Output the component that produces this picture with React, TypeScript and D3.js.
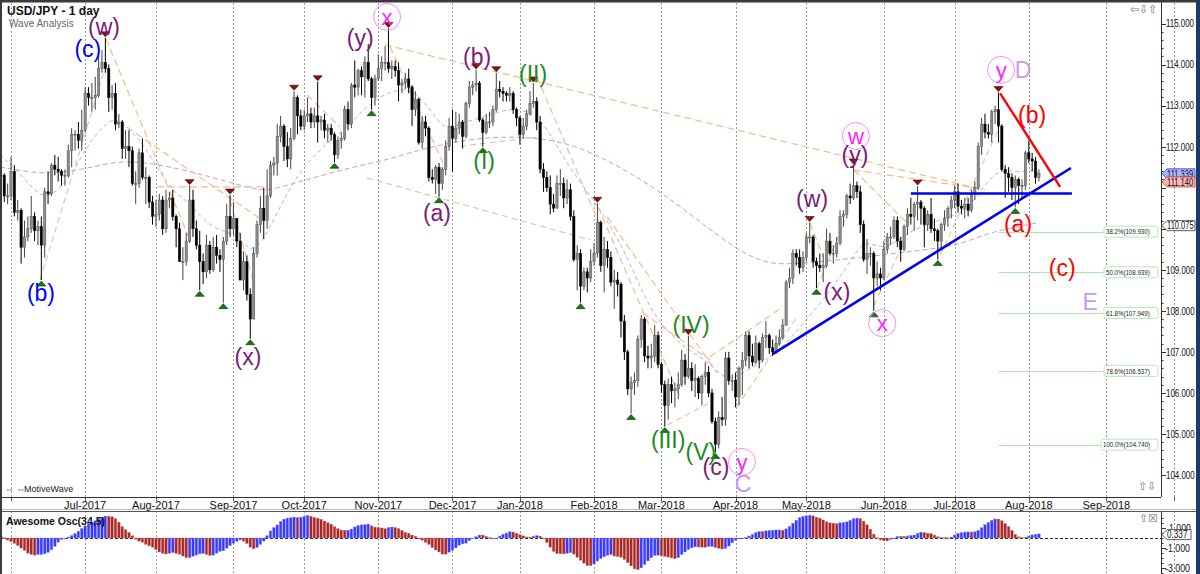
import React from 'react';
import * as d3 from 'd3';

type Bar = [number, number, number, number]; // open, high, low, close

// ---- Daily USD/JPY candles (open, high, low, close) ----
const apr2017: Bar[] = [
  [110.90,110.95,109.60,109.70],[109.70,109.85,109.20,109.35],[109.35,109.50,108.75,109.05],[109.05,109.10,108.60,108.65],
  [108.65,108.95,108.15,108.90],[108.90,109.10,108.55,108.80],[108.80,109.25,108.60,108.95],[108.95,109.50,108.85,109.30],
  [109.30,109.55,108.90,109.05],[109.05,110.15,109.05,109.95],[109.95,111.15,109.85,111.10],[111.10,111.80,110.95,111.15],
  [111.15,111.45,110.85,111.25],[111.25,111.70,111.20,111.50],
];
const may2017: Bar[] = [
  [111.50,111.95,111.25,111.85],[111.85,112.30,111.75,112.15],[112.15,112.80,111.95,112.75],[112.75,112.95,112.40,112.50],
  [112.50,112.90,112.25,112.70],[112.70,113.35,112.55,113.25],[113.25,114.10,113.20,114.00],[114.00,114.35,113.75,114.20],
  [114.20,114.35,113.70,113.90],[113.90,114.00,113.25,113.35],[113.35,113.90,113.30,113.75],[113.75,114.20,112.85,113.10],
  [113.10,113.20,110.90,110.95],[110.95,111.65,110.25,111.50],[111.50,111.70,111.05,111.30],[111.30,111.45,110.85,111.10],
  [111.10,111.90,110.95,111.80],[111.80,112.15,111.40,111.60],[111.60,111.95,111.30,111.80],[111.80,111.90,111.10,111.30],
  [111.30,111.45,110.95,111.30],[111.30,111.35,110.65,110.80],[110.80,111.10,110.60,110.80],
];
const jun2017: Bar[] = [
  [110.80,111.75,110.70,111.40],[111.40,111.55,110.30,110.40],[110.40,110.70,110.20,110.45],[110.45,110.50,109.15,109.55],
  [109.55,110.20,109.30,109.80],[109.80,110.30,109.70,110.00],[110.00,110.80,109.90,110.30],[110.30,110.40,109.70,109.95],
  [109.95,110.20,109.60,110.05],[110.05,110.30,108.75,109.60],[109.60,111.00,109.30,110.90],[110.90,111.40,110.60,110.85],
  [110.85,111.60,110.80,111.55],[111.55,111.80,111.30,111.45],[111.45,111.75,111.15,111.40],[111.40,111.45,111.05,111.30],
  [111.30,111.45,111.05,111.30],[111.30,112.05,111.25,111.90],[111.90,112.45,111.50,112.30],[112.30,112.40,111.90,112.30],
  [112.30,112.60,111.95,112.15],[112.15,112.90,111.90,112.40],
];
const jul2017: Bar[] = [
  [112.40,113.45,112.35,113.30],[113.30,113.45,113.00,113.20],[113.20,113.55,112.85,113.20],[113.20,113.70,112.90,113.25],
  [113.25,114.20,113.20,113.90],[113.90,114.35,113.80,114.05],[114.05,114.65,113.80,113.90],[113.90,114.00,112.85,113.20],
  [113.20,113.50,112.90,113.30],[113.30,113.55,112.40,112.55],[112.55,112.80,112.45,112.60],[112.60,112.65,111.70,111.95],
  [111.95,112.40,111.70,112.00],[112.00,112.40,111.50,111.90],[111.90,112.00,111.05,111.10],[111.10,111.40,110.60,111.10],
  [111.10,111.95,111.00,111.85],[111.85,112.20,111.20,111.25],[111.25,111.50,110.60,111.25],[111.25,111.30,110.50,110.65],
  [110.65,110.80,110.10,110.30],
];
const aug2017: Bar[] = [
  [110.30,110.70,110.05,110.35],[110.35,110.85,110.20,110.70],[110.70,110.80,109.85,110.00],[110.00,110.95,109.90,110.70],
  [110.70,110.90,110.50,110.75],[110.75,110.95,110.20,110.30],[110.30,110.35,109.55,110.00],[110.00,110.15,109.20,109.20],
  [109.20,109.55,108.75,109.20],[109.20,109.90,109.10,109.70],[109.70,111.05,109.65,110.70],[110.70,110.95,109.80,110.00],
  [110.00,110.20,109.50,109.60],[109.60,109.95,108.50,109.20],[109.20,109.40,108.65,108.95],[108.95,109.85,108.80,109.60],
  [109.60,109.70,108.90,109.00],[109.00,109.80,108.95,109.55],[109.55,109.85,109.15,109.35],[109.35,109.50,108.95,109.25],
  [109.25,109.80,108.20,109.70],[109.70,110.60,109.60,110.30],[110.30,110.82,109.80,110.00],
];
const sep2017: Bar[] = [
  [110.00,110.65,109.85,110.25],[110.25,110.25,109.55,109.70],[109.70,109.90,108.75,108.75],[108.75,109.45,108.50,109.20],
  [109.20,109.35,108.25,108.40],[108.40,108.55,107.32,107.80],[107.80,109.55,107.80,109.40],[109.40,110.20,109.30,110.10],
  [110.10,110.80,109.90,110.50],[110.50,111.00,109.75,110.20],[110.20,111.45,110.00,110.80],[110.80,111.65,110.75,111.55],
  [111.55,111.75,111.30,111.60],[111.60,112.55,111.30,112.25],[112.25,112.75,112.10,112.50],[112.50,112.55,111.65,112.00],
  [112.00,112.35,111.50,111.70],[111.70,112.45,111.45,112.20],[112.20,113.35,112.15,113.20],[113.20,113.25,112.30,112.75],
  [112.75,112.90,112.40,112.50],
];
const oct2017: Bar[] = [
  [112.50,112.90,112.40,112.75],[112.75,113.20,112.60,112.80],[112.80,112.95,112.45,112.60],[112.60,112.95,112.45,112.75],
  [112.75,113.58,112.10,112.60],[112.60,112.75,112.40,112.65],[112.65,112.80,112.20,112.40],[112.40,112.55,112.10,112.45],
  [112.45,112.55,112.15,112.30],[112.30,112.35,111.62,111.80],[111.80,112.25,111.70,112.15],[112.15,112.35,111.95,112.20],
  [112.20,113.00,112.15,112.90],[112.90,113.10,112.40,112.55],[112.55,113.55,112.45,113.50],[113.50,114.10,113.20,113.45],
  [113.45,113.90,113.25,113.85],[113.85,113.95,113.25,113.70],[113.70,114.20,113.20,114.05],[114.05,114.50,113.60,113.65],
  [113.65,113.70,112.90,113.20],[113.20,113.75,113.00,113.65],
];
const nov2017: Bar[] = [
  [113.65,114.25,113.60,113.90],[113.90,114.20,113.60,114.05],[114.05,114.45,113.85,114.05],[114.05,114.88,113.80,113.90],
  [113.90,114.10,113.65,113.95],[113.95,114.10,113.70,113.85],[113.85,114.05,113.10,113.50],[113.50,113.65,113.30,113.55],
  [113.55,113.80,113.40,113.65],[113.65,113.90,113.30,113.45],[113.45,113.50,112.50,112.90],[112.90,113.35,112.75,113.15],
  [113.15,113.20,112.05,112.10],[112.10,112.75,111.95,112.60],[112.60,112.75,112.25,112.45],[112.45,112.50,111.15,111.25],
  [111.25,111.45,111.10,111.20],[111.20,111.55,110.85,111.50],[111.50,111.60,110.78,111.10],[111.10,111.50,110.95,111.45],
  [111.45,112.15,111.30,112.00],[112.00,112.70,111.90,112.50],
];
const dec2017: Bar[] = [
  [112.50,112.90,111.40,112.20],[112.20,112.85,112.10,112.45],[112.45,112.80,112.30,112.60],[112.60,112.65,111.95,112.25],
  [112.25,113.10,112.20,113.05],[113.05,113.60,112.95,113.45],[113.45,113.60,113.25,113.50],[113.50,113.87,113.35,113.55],
  [113.55,113.60,112.60,112.65],[112.65,112.70,112.00,112.35],[112.35,112.80,112.30,112.60],[112.60,112.85,112.45,112.60],
  [112.60,113.00,112.50,112.90],[112.90,113.80,112.85,113.40],[113.40,113.60,113.20,113.35],[113.35,113.45,113.10,113.30],
  [113.30,113.35,113.10,113.25],[113.25,113.45,113.10,113.30],[113.30,113.35,112.80,112.90],[112.90,112.95,112.50,112.70],
];
const jan2018: Bar[] = [
  [112.70,112.75,112.05,112.30],[112.30,112.70,112.20,112.50],[112.50,112.90,112.40,112.80],[112.80,113.35,112.75,113.05],
  [113.05,113.55,112.95,113.10],[113.10,113.20,112.40,112.60],[112.60,112.75,111.35,111.45],[111.45,111.60,110.90,111.25],
  [111.25,111.40,110.90,111.00],[111.00,111.30,110.35,110.60],[110.60,110.85,110.40,110.50],[110.50,111.30,110.50,111.10],
  [111.10,111.45,110.80,111.10],[111.10,111.25,110.50,110.75],[110.75,111.20,110.60,110.95],[110.95,111.10,110.20,110.30],
  [110.30,110.45,109.20,109.25],[109.25,109.60,108.50,109.40],[109.40,109.50,108.20,108.60],[108.60,109.05,108.50,108.95],
  [108.95,109.05,108.45,108.80],[108.80,109.50,108.70,109.20],
];
const feb2018: Bar[] = [
  [109.20,109.65,109.10,109.40],[109.40,110.62,109.30,110.15],[110.15,110.20,108.95,109.10],[109.10,109.80,108.45,109.50],
  [109.50,109.70,109.05,109.30],[109.30,109.45,108.60,108.70],[108.70,109.00,108.05,108.75],[108.75,108.95,108.35,108.65],
  [108.65,108.70,107.35,107.75],[107.75,107.90,106.80,107.00],[107.00,107.05,105.95,106.10],[106.10,106.40,105.50,106.25],
  [106.25,106.50,105.95,106.30],[106.30,107.40,106.15,107.30],[107.30,107.90,107.10,107.80],[107.80,107.85,106.75,106.90],
  [106.90,107.15,106.60,106.85],[106.85,107.20,106.60,106.90],[106.90,107.65,106.75,107.40],[107.40,107.50,106.60,106.70],
];
const mar2018: Bar[] = [
  [106.70,106.75,106.00,106.20],[106.20,106.30,105.18,105.70],[105.70,106.35,105.35,106.20],[106.20,106.40,105.75,106.05],
  [106.05,106.25,105.65,106.10],[106.10,106.50,105.85,106.20],[106.20,107.05,106.15,106.80],[106.80,106.95,106.20,106.40],
  [106.40,107.40,106.35,106.60],[106.60,106.75,106.05,106.30],[106.30,106.70,105.90,106.35],[106.35,106.40,105.85,106.00],
  [106.00,106.45,105.70,106.40],[106.40,106.75,106.20,106.50],[106.50,106.65,105.90,106.00],[106.00,106.10,105.25,105.30],
  [105.30,105.40,104.55,104.75],[104.75,105.55,104.65,105.40],[105.40,105.90,105.20,105.35],[105.35,107.00,105.20,106.85],
  [106.85,107.00,106.20,106.30],[106.30,106.45,106.05,106.30],
];
const apr2018: Bar[] = [
  [106.30,106.50,105.65,105.90],[105.90,106.65,105.70,106.60],[106.60,107.00,105.95,106.80],[106.80,107.50,106.65,107.40],
  [107.40,107.50,106.60,106.90],[106.90,107.20,106.65,106.75],[106.75,107.40,106.70,107.20],[107.20,107.25,106.60,106.80],
  [106.80,107.45,106.75,107.35],[107.35,107.75,107.10,107.40],[107.40,107.45,106.95,107.10],[107.10,107.30,106.90,107.00],
  [107.00,107.40,106.95,107.20],[107.20,107.55,107.15,107.35],[107.35,107.80,107.30,107.65],[107.65,108.75,107.65,108.70],
  [108.70,109.05,108.55,108.80],[108.80,109.50,108.65,109.40],[109.40,109.50,109.10,109.30],[109.30,109.50,108.90,109.05],
  [109.05,109.45,108.95,109.30],
];
const may2018: Bar[] = [
  [109.30,109.90,109.20,109.80],[109.80,110.15,109.65,109.80],[109.80,109.85,109.05,109.20],[109.20,109.30,108.55,109.10],
  [109.10,109.40,108.95,109.05],[109.05,109.40,108.70,109.10],[109.10,110.00,109.05,109.70],[109.70,109.90,109.35,109.40],
  [109.40,109.60,109.15,109.40],[109.40,109.80,109.30,109.65],[109.65,110.45,109.60,110.30],[110.30,110.45,110.05,110.35],
  [110.35,110.85,110.25,110.80],[110.80,111.10,110.60,110.75],[110.75,111.55,110.70,111.05],[111.05,111.15,110.75,110.90],
  [110.90,111.05,109.90,110.10],[110.10,110.20,109.20,109.25],[109.25,109.75,108.90,109.40],[109.40,109.55,109.10,109.40],
  [109.40,109.45,108.00,108.80],[108.80,109.20,108.60,108.90],[108.90,109.05,108.50,108.80],
];
const jun2018: Bar[] = [
  [108.80,109.70,108.75,109.50],[109.50,109.90,109.40,109.80],[109.80,110.05,109.60,109.80],[109.80,110.30,109.75,110.20],
  [110.20,110.30,109.55,109.70],[109.70,109.80,109.20,109.50],[109.50,110.10,109.45,110.05],[110.05,110.50,109.85,110.35],
  [110.35,110.75,110.10,110.30],[110.30,110.65,109.95,110.60],[110.60,111.04,110.20,110.65],[110.65,110.70,110.10,110.50],
  [110.50,110.55,109.55,110.10],[110.10,110.45,109.95,110.35],[110.35,110.75,109.90,110.00],[110.00,110.25,109.70,109.95],
  [109.95,110.00,109.25,109.70],[109.70,110.15,109.50,110.10],[110.10,110.45,109.95,110.25],[110.25,110.55,110.05,110.50],
  [110.50,110.80,110.25,110.70],
];
const jul2018: Bar[] = [
  [110.70,111.05,110.50,110.90],[110.90,111.10,110.40,110.55],[110.55,110.70,110.35,110.50],[110.50,110.75,110.25,110.60],
  [110.60,110.75,110.30,110.45],[110.45,110.95,110.40,110.85],[110.85,111.15,110.70,111.00],[111.00,112.10,110.95,112.00],
  [112.00,112.70,111.80,112.55],[112.55,112.80,112.20,112.35],[112.35,112.55,112.20,112.30],[112.30,112.90,112.10,112.85],
  [112.85,113.00,112.55,112.90],[112.90,113.32,112.10,112.50],[112.50,112.55,111.40,111.45],[111.45,111.55,110.75,111.35],
  [111.35,111.50,110.90,111.25],[111.25,111.35,110.70,111.00],[111.00,111.30,110.52,111.20],[111.20,111.25,110.60,111.05],
  [111.05,111.20,110.75,111.05],[111.05,111.90,110.95,111.85],
];
const aug2018: Bar[] = [
  [111.85,112.15,111.60,111.70],[111.70,111.85,111.40,111.65],[111.65,111.75,111.10,111.25],[111.25,111.45,111.15,111.35],
];

// month blocks: year, month (0-based), first day, candles
const blocks: [number, number, number, Bar[]][] = [
  [2017, 3, 11, apr2017], [2017, 4, 1, may2017], [2017, 5, 1, jun2017], [2017, 6, 1, jul2017],
  [2017, 7, 1, aug2017], [2017, 8, 1, sep2017], [2017, 9, 1, oct2017], [2017, 10, 1, nov2017],
  [2017, 11, 1, dec2017], [2018, 0, 1, jan2018], [2018, 1, 1, feb2018], [2018, 2, 1, mar2018],
  [2018, 3, 1, apr2018], [2018, 4, 1, may2018], [2018, 5, 1, jun2018], [2018, 6, 1, jul2018],
  [2018, 7, 1, aug2018],
];

// wave pivot markers
const highMarks = ['2017-07-11','2017-08-15','2017-08-31','2017-09-27','2017-10-06','2017-11-06','2017-12-12',
  '2017-12-20','2018-01-08','2018-02-02','2018-03-13','2018-05-02','2018-05-21','2018-06-15','2018-07-19'];
const lowMarks = ['2017-06-14','2017-08-18','2017-08-29','2017-09-08','2017-10-13','2017-10-30','2017-11-27',
  '2017-12-14','2018-01-26','2018-02-16','2018-03-02','2018-03-23','2018-05-04','2018-05-29','2018-06-25','2018-07-26'];

// wave labels: text, bar (from 1 Jun 2017), price, colour, circled
const waveLabels: [string, number, number, string, boolean][] = [
  ['(c)', 22.8, 114.38, '#0000ff', false], ['(w)', 27.6, 114.91, '#7a1a7a', false],
  ['(b)', 8.9, 108.43, '#0000ff', false], ['(x)', 70.3, 106.88, '#7a1a7a', false],
  ['(y)', 103.6, 114.65, '#7a1a7a', false], ['x', 111.6, 115.16, '#ff22ff', true],
  ['(a)', 126.4, 110.38, '#7a1a7a', false], ['(b)', 138.3, 114.18, '#7a1a7a', false],
  ['(I)', 140.4, 111.65, '#1a8a1a', false], ['(II)', 154.9, 113.77, '#1a8a1a', false],
  ['(IV)', 201.8, 107.66, '#1a8a1a', false], ['(III)', 195.0, 104.85, '#1a8a1a', false],
  ['(V)', 204.7, 104.56, '#1a8a1a', false], ['(c)', 209.2, 104.20, '#7a1a7a', false],
  ['y', 216.9, 104.32, '#ff22ff', true], ['C', 217.2, 103.78, '#c89af5', false],
  ['(w)', 237.7, 110.73, '#7a1a7a', false], ['(x)', 245.1, 108.46, '#7a1a7a', false],
  ['w', 250.7, 112.26, '#ff22ff', true], ['(y)', 250.4, 111.80, '#7a1a7a', false],
  ['x', 258.5, 107.70, '#ff22ff', true], ['y', 293.8, 113.87, '#ff22ff', true],
  ['D', 300.3, 113.87, '#c89af5', false], ['(b)', 303.0, 112.77, '#ff0000', false],
  ['(a)', 298.8, 110.12, '#ff0000', false], ['(c)', 311.9, 109.04, '#ff0000', false],
  ['E', 320.2, 108.22, '#c89af5', false],
];

// moving averages sampled from the chart: [bar, price]
const blueMA: [number, number][] = [
  [-3.3,111.80],[2.7,111.36],[9.2,110.70],[13.6,110.90],[18.4,111.36],[21.4,111.85],[25.5,112.33],[29.4,112.65],
  [31.5,112.65],[34.4,112.48],[38.3,112.16],[42.1,111.67],[48.1,110.87],[52.2,110.70],[56.1,110.29],[61.1,109.97],
  [65.9,109.90],[70.0,109.56],[71.8,109.48],[74.8,109.73],[76.9,110.04],[81.9,110.87],[86.6,111.50],[93.8,112.09],
  [99.7,112.48],[106.5,113.06],[111.6,113.31],[117.5,113.45],[122.3,113.14],[126.4,112.65],[129.4,112.41],
  [134.1,112.58],[140.1,112.72],[148.1,112.95],[154.0,112.85],[158.5,112.55],[165.0,111.55],[174.5,110.53],
  [181.6,109.56],[188.7,108.19],[193.5,107.60],[200.6,107.05],[207.4,106.75],[212.5,106.24],[218.4,106.56],
  [225.2,106.85],[231.2,107.30],[236.0,107.80],[241.0,108.26],[248.1,109.07],[252.8,109.73],[257.0,109.56],
  [260.8,109.56],[265.9,109.90],[272.7,110.14],[278.6,110.29],[284.6,110.53],[288.4,111.02],[293.5,111.48],
  [298.5,111.36],[302.4,111.43],[304.7,111.38],
];
const purpleMA: [number, number][] = [
  [-3.3,111.51],[9.5,111.31],[21.4,111.44],[32.3,111.67],[41.3,111.60],[54.0,111.39],[65.9,111.10],[73.9,110.94],
  [76.9,110.94],[86.6,111.17],[101.5,111.51],[109.5,111.63],[119.3,111.88],[130.3,112.10],[142.2,112.24],
  [154.9,112.23],[165.0,112.09],[174.8,111.76],[184.6,111.32],[194.7,110.78],[204.5,110.17],[214.2,109.56],
  [222.3,109.20],[229.1,109.12],[240.1,109.20],[251.0,109.29],[270.6,109.48],[281.6,109.60],[290.5,109.93],
  [304.5,110.14],
];

// trend lines (bar, price) pairs
const blueLines: [number, number, number, number][] = [[226.1, 106.95, 314.5, 111.48], [267.0, 110.86, 314.8, 110.86]];
const redLines: [number, number, number, number][] = [[293.5, 113.30, 311.3, 111.02]];
const orangeLines: [number, number, number, number][] = [
  [28.2,114.62,53.1,109.73],[34.4,112.48,74.5,110.21],[43.3,111.02,76.0,111.02],[65.0,110.70,72.4,108.58],
  [87.8,113.26,97.6,112.48],[111.0,114.48,289.0,110.94],[112.5,114.43,128.2,111.60],[156.1,113.70,174.8,110.07],
  [174.2,110.53,198.5,105.90],[176.9,110.29,209.5,106.49],[187.5,107.95,207.4,106.80],[207.4,106.88,229.1,108.10],
  [250.1,111.43,265.9,110.14],[250.1,111.43,286.6,110.99],[237.1,110.14,241.0,109.31],
];
const oliveLines: [number, number, number, number][] = [
  [8.6,108.75,28.5,114.06],[105.6,111.24,171.8,109.73],[133.2,112.01,157.0,112.24],[194.7,105.22,207.4,105.76],
  [215.4,105.66,233.2,107.85],[239.2,108.56,247.5,110.21],[256.1,108.14,265.3,109.73],[275.7,109.36,292.9,112.40],
];

// Fibonacci retracement levels
const fibPct = ['38.2', '50.0', '61.8', '78.6', '100.0'];
const fibPrice = [109.930, 108.939, 107.949, 106.537, 104.740];
const fibStartBar = 293;

const priceTicks = [104, 105, 106, 107, 108, 109, 110, 111, 112, 113, 114, 115];
const aoTicks = [1, -1, -3];
const priceTags: [number, string, string][] = [[111.339, '#aab4ff', '#3344cc'], [111.140, '#ffb8b8', '#cc3333'], [110.075, '#ffffff', '#333333']];
const aoTag = 0.337;

const monthNames = ['Jan','Feb','Mar','Apr','May','Jun','Jul','Aug','Sep','Oct','Nov','Dec'];

function tradingDays(y: number, m: number, start: number): Date[] {
  const out: Date[] = [];
  const d = new Date(Date.UTC(y, m, start));
  while (d.getUTCMonth() === m) {
    const wd = d.getUTCDay();
    const md = d.getUTCDate();
    const hol = (m === 11 && md === 25) || (m === 0 && md === 1);
    if (wd !== 0 && wd !== 6 && !hol) out.push(new Date(d.getTime()));
    d.setUTCDate(md + 1);
  }
  return out;
}
const key = (d: Date) => d.toISOString().slice(0, 10);

export default function App() {
  const W = 1200, H = 574;
  const plotR = 1161, plotB = 497, aoTop = 511;

  type C = { i: number; date: Date; o: number; h: number; l: number; c: number };
  const candles: C[] = [];
  let gi = 0;
  blocks.forEach(([y, m, s, data]) => {
    const days = tradingDays(y, m, s);
    data.forEach((b, k) => {
      candles.push({ i: gi, date: days[k], o: b[0], h: b[1], l: b[2], c: b[3] });
      gi++;
    });
  });
  const jun1 = candles.findIndex(c => key(c.date) === '2017-06-01');
  candles.forEach(c => { c.i = c.i - jun1; });
  const byKey = new Map(candles.map(c => [key(c.date), c]));

  const months: { label: string; idx: number }[] = [];
  let idx = 0;
  const calMonths: [number, number][] = [];
  for (let y = 2017, m = 5; !(y === 2018 && m === 10); ) {
    calMonths.push([y, m]);
    m++; if (m > 11) { m = 0; y++; }
  }
  calMonths.forEach(([y, m]) => {
    const days = tradingDays(y, m, 1);
    months.push({ label: `${monthNames[m]}-${y}`, idx });
    idx += days.length;
  });

  const x = d3.scaleLinear().domain([0, 325]).range([11, 1106.3]);
  const yS = d3.scaleLinear().domain([104, 115]).range([475.05, 23.5]);
  const aoY = d3.scaleLinear().domain([-1, 1]).range([548, 528]);

  const med = candles.map(c => (c.h + c.l) / 2);
  const ao: { i: number; v: number; up: boolean }[] = [];
  let prev = NaN;
  for (let k = 33; k < candles.length; k++) {
    const s5 = d3.mean(med.slice(k - 4, k + 1)) as number;
    const s34 = d3.mean(med.slice(k - 33, k + 1)) as number;
    const v = s5 - s34;
    ao.push({ i: candles[k].i, v, up: isNaN(prev) ? true : v >= prev });
    prev = v;
  }

  const line = d3.line<[number, number]>().x(d => x(d[0])).y(d => yS(d[1])).curve(d3.curveBasis);
  const font = "Arial, 'Liberation Sans', sans-serif";
  const bw = 2.3;
  const tagYs = priceTags.map(t => yS(t[0]));

  return (
    <svg width={W} height={H} style={{ position: 'absolute', left: 0, top: 0, display: 'block', background: '#fff' }} fontFamily={font}>
      <defs>
        <clipPath id="mainClip"><rect x={2} y={2} width={plotR - 2} height={plotB - 2} /></clipPath>
        <clipPath id="aoClip"><rect x={2} y={aoTop} width={plotR - 2} height={H - aoTop} /></clipPath>
      </defs>
      <rect x={0} y={0} width={W} height={H} fill="#fff" />

      {months.map((m, k) => (
        <g key={k}>
          <line x1={Math.round(x(m.idx)) + 0.5} x2={Math.round(x(m.idx)) + 0.5} y1={3} y2={plotB} stroke="#9a9a9a" strokeDasharray="2,2" />
          <line x1={Math.round(x(m.idx)) + 0.5} x2={Math.round(x(m.idx)) + 0.5} y1={aoTop} y2={H} stroke="#9a9a9a" strokeDasharray="2,2" />
          <line x1={Math.round(x(m.idx)) + 0.5} x2={Math.round(x(m.idx)) + 0.5} y1={plotB} y2={plotB + 4} stroke="#555" />
          {x(m.idx) > 40 && x(m.idx) < 1140 && (
            <text x={x(m.idx)} y={509} fontSize={11} textAnchor="middle" fill="#111">{m.label}</text>
          )}
        </g>
      ))}

      <g clipPath="url(#mainClip)">
        <path d={line(purpleMA) || ''} fill="none" stroke="#c99ad9" strokeWidth={1} strokeDasharray="5,3" />
        <path d={line(blueMA) || ''} fill="none" stroke="#9fb6f2" strokeWidth={1} strokeDasharray="4,3" />
        {oliveLines.map((l, k) => (
          <line key={'ol' + k} x1={x(l[0])} y1={yS(l[1])} x2={x(l[2])} y2={yS(l[3])} stroke="#d2cb9a" strokeWidth={1.1} strokeDasharray="6,4" />
        ))}
        {orangeLines.map((l, k) => (
          <line key={'or' + k} x1={x(l[0])} y1={yS(l[1])} x2={x(l[2])} y2={yS(l[3])} stroke="#f7b98e" strokeWidth={1.2} strokeDasharray="7,4" />
        ))}
        {fibPrice.map((p, k) => (
          <line key={'fl' + k} x1={x(fibStartBar)} x2={1105} y1={Math.round(yS(p)) + 0.5} y2={Math.round(yS(p)) + 0.5} stroke="#a9e8a9" strokeWidth={1} />
        ))}
        {candles.map((c, k) => {
          const cx = x(c.i);
          const up = c.c >= c.o;
          const top = yS(Math.max(c.o, c.c));
          const bot = yS(Math.min(c.o, c.c));
          const hgt = Math.max(1, bot - top);
          return (
            <g key={'c' + k}>
              <line x1={cx} x2={cx} y1={yS(c.h)} y2={yS(c.l)} stroke={up ? '#444' : '#000'} strokeWidth={1} />
              <rect x={cx - bw / 2} y={top} width={bw} height={hgt} fill={up ? '#8c8c8c' : '#000'} stroke={up ? '#555' : '#000'} strokeWidth={0.5} />
            </g>
          );
        })}
        {highMarks.map((d, k) => {
          const c = byKey.get(d); if (!c) return null;
          const cx = x(c.i), cy = yS(c.h) - 1;
          return <path key={'hm' + k} d={`M${cx - 4.5},${cy - 5} L${cx + 4.5},${cy - 5} L${cx},${cy} Z`} fill="#8b1010" stroke="#3a0000" strokeWidth={0.6} />;
        })}
        {lowMarks.map((d, k) => {
          const c = byKey.get(d); if (!c) return null;
          const cx = x(c.i), cy = yS(c.l) + 1;
          return <path key={'lm' + k} d={`M${cx - 4.5},${cy + 5} L${cx + 4.5},${cy + 5} L${cx},${cy} Z`} fill="#157a15" stroke="#003300" strokeWidth={0.6} />;
        })}
        {blueLines.map((l, k) => (
          <line key={'bl' + k} x1={x(l[0])} y1={yS(l[1])} x2={x(l[2])} y2={yS(l[3])} stroke="#0000ee" strokeWidth={2.6} />
        ))}
        {redLines.map((l, k) => (
          <line key={'rl' + k} x1={x(l[0])} y1={yS(l[1])} x2={x(l[2])} y2={yS(l[3])} stroke="#ff0000" strokeWidth={2.4} />
        ))}
        {waveLabels.map(([t, b, p, col, circ], k) => (
          <g key={'wl' + k}>
            {circ && <circle cx={x(b)} cy={yS(p)} r={13.5} fill="none" stroke="#ff88ff" strokeWidth={1} />}
            <text x={x(b)} y={yS(p)} dy="0.36em" fontSize={circ ? 22 : 23} textAnchor="middle" fill={col}>{t}</text>
          </g>
        ))}
      </g>

      {fibPrice.map((p, k) => {
        const s = `${fibPct[k]}%(${p.toFixed(3)})`;
        const bx = k === 4 ? 1101 : 1104;
        return (
          <g key={'fb' + k}>
            <rect x={bx} y={yS(p) - 5.5} width={1158 - bx} height={11} rx={2} fill="#fff" stroke="#b5ecb5" strokeWidth={1} />
            <text transform={`translate(${bx + 2},${yS(p)}) scale(0.82,1)`} dy="0.35em" fontSize={7.5} fill="#222">{s}</text>
          </g>
        );
      })}

      <text x={7} y={15} fontSize={12} fontWeight="bold" fill="#111">USD/JPY - 1 day</text>
      <text x={9} y={27} fontSize={10} fill="#666">Wave Analysis</text>
      <text x={5} y={492} fontSize={9} fill="#666">⇔ ⇔</text>
      <text x={24} y={492} fontSize={9} fill="#222">MotiveWave</text>
      <text x={1130} y={13} fontSize={11} fill="#777">⇦⇩⇧</text>
      <text x={1138} y={490} fontSize={11} fill="#777">⇧⇩</text>
      <text x={1139} y={522} fontSize={11} fill="#777">⇧☒</text>

      <line x1={plotR + 0.5} x2={plotR + 0.5} y1={2} y2={plotB} stroke="#333" />
      {d3.range(104, 115.01, 0.2).map((p, k) => (
        <line key={'mt' + k} x1={plotR} x2={plotR + 2.5} y1={Math.round(yS(p)) + 0.5} y2={Math.round(yS(p)) + 0.5} stroke="#333" />
      ))}
      {priceTicks.map(p => {
        const s = p.toFixed(3);
        const hidden = tagYs.some(t => Math.abs(t - yS(p)) < 7);
        return (
          <g key={'pt' + p}>
            <line x1={plotR} x2={plotR + 5} y1={Math.round(yS(p)) + 0.5} y2={Math.round(yS(p)) + 0.5} stroke="#333" />
            {!hidden && <text transform={`translate(1166,${yS(p)}) scale(0.72,1)`} dy="0.35em" fontSize={11} fill="#111">{s}</text>}
          </g>
        );
      })}
      {priceTags.map(([p, fill, stroke], k) => {
        const ty = yS(p);
        return (
          <g key={'tg' + k}>
            <path d={`M${plotR + 1},${ty} L${plotR + 6},${ty - 5} L${1195},${ty - 5} L${1195},${ty + 5} L${plotR + 6},${ty + 5} Z`} fill={fill} stroke={stroke} strokeWidth={0.8} />
            <text transform={`translate(1167,${ty}) scale(0.72,1)`} dy="0.36em" fontSize={10.5} fill="#111">{p.toFixed(3)}</text>
          </g>
        );
      })}

      <line x1={0} x2={plotR} y1={plotB + 0.5} y2={plotB + 0.5} stroke="#333" />
      <line x1={0} x2={W} y1={aoTop + 0.5} y2={aoTop + 0.5} stroke="#555" />
      <line x1={0} x2={W} y1={aoTop - 1.5} y2={aoTop - 1.5} stroke="#bbb" />

      <line x1={0} x2={plotR} y1={aoY(0) + 0.5} y2={aoY(0) + 0.5} stroke="#222" strokeDasharray="3,2" />
      <g clipPath="url(#aoClip)">
        {ao.map((a, k) => {
          const y0 = aoY(0), y1 = aoY(a.v);
          return (
            <rect key={'ao' + k} x={x(a.i) - 1.3} width={2.6} y={Math.min(y0, y1)} height={Math.max(0.8, Math.abs(y1 - y0))}
              fill={a.up ? '#3838ff' : '#a82828'} stroke={a.up ? '#8f8fff' : '#d08080'} strokeWidth={0.4} />
          );
        })}
      </g>
      <text x={6} y={525} fontSize={10.5} fontWeight="bold" fill="#111">Awesome Osc(34,5)</text>
      <line x1={plotR + 0.5} x2={plotR + 0.5} y1={aoTop} y2={H} stroke="#333" />
      {d3.range(-3.5, 2.01, 0.5).map((v, k) => (
        <line key={'am' + k} x1={plotR} x2={plotR + 2.5} y1={Math.round(aoY(v)) + 0.5} y2={Math.round(aoY(v)) + 0.5} stroke="#333" />
      ))}
      {aoTicks.map(v => {
        const s = v.toFixed(3);
        return (
          <g key={'at' + v}>
            <line x1={plotR} x2={plotR + 5} y1={Math.round(aoY(v)) + 0.5} y2={Math.round(aoY(v)) + 0.5} stroke="#333" />
            <text transform={`translate(${v < 0 ? 1165 : 1169},${aoY(v)}) scale(0.8,1)`} dy="0.35em" fontSize={11} fill="#111">{s}</text>
          </g>
        );
      })}
      <path d={`M${plotR + 1},${aoY(aoTag)} L${plotR + 6},${aoY(aoTag) - 5} L${1191},${aoY(aoTag) - 5} L${1191},${aoY(aoTag) + 5} L${plotR + 6},${aoY(aoTag) + 5} Z`} fill="#fff" stroke="#333" strokeWidth={0.8} />
      <text transform={`translate(1167,${aoY(aoTag)}) scale(0.78,1)`} dy="0.36em" fontSize={10.5} fill="#111">{aoTag.toFixed(3)}</text>

      <rect x={0} y={0} width={W} height={2.5} fill="#3a3a3a" />
      <rect x={0} y={0} width={2} height={H} fill="#3a3a3a" />
      <rect x={1196} y={0} width={4} height={H} fill="#1f3a6a" />
    </svg>
  );
}
